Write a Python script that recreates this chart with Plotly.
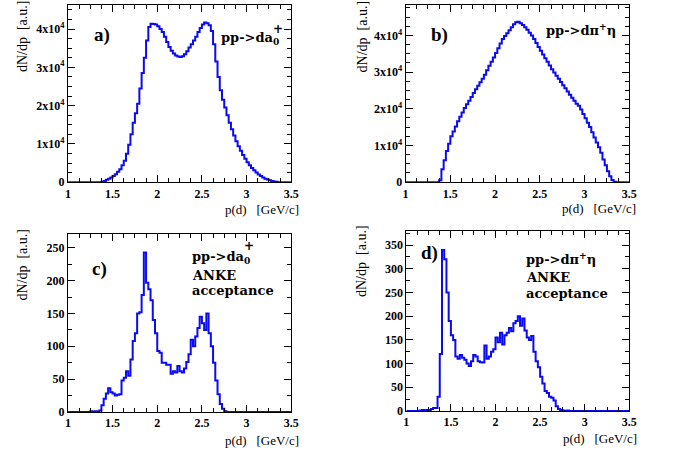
import plotly.graph_objects as go

# ---------------- data ----------------
x_start = 1.0
bin_width = 0.025
n_bins = 100
edges = [round(x_start + i * bin_width, 4) for i in range(n_bins + 1)]

# a) pp->d a0+   (units of 1e4)
a_values = [0]*15 + [
    0.01, 0.03, 0.06, 0.09, 0.12, 0.16, 0.21, 0.27, 0.34, 0.44,
    0.56, 0.74, 0.98, 1.25, 1.55, 1.80, 2.05, 2.45, 2.85, 3.25,
    3.70, 4.05, 4.14, 4.13, 4.12, 4.07, 4.00, 3.92, 3.80, 3.66,
    3.53, 3.43, 3.36, 3.31, 3.28, 3.27, 3.29, 3.34, 3.42, 3.52,
    3.60, 3.70, 3.80, 3.92, 4.03, 4.12, 4.17, 4.15, 4.10, 3.95,
    3.60, 3.15, 2.75, 2.40, 2.15, 1.95, 1.75, 1.55, 1.38, 1.22,
    1.07, 0.94, 0.82, 0.71, 0.61, 0.52, 0.44, 0.37, 0.31, 0.25,
    0.20, 0.16, 0.12, 0.09, 0.07, 0.05, 0.03, 0.02, 0.01] + [0]*6

# b) pp->d pi+ eta   (units of 1e4)
b_values = [0]*15 + [
    0.05, 0.35, 0.60, 0.85, 1.05, 1.25, 1.38, 1.52, 1.66, 1.78,
    1.90, 2.02, 2.12, 2.22, 2.32, 2.43, 2.53, 2.63, 2.72, 2.82,
    2.93, 3.05, 3.17, 3.28, 3.40, 3.52, 3.65, 3.78, 3.90, 3.98,
    4.06, 4.14, 4.22, 4.30, 4.36, 4.37, 4.33, 4.28, 4.22, 4.15,
    4.07, 4.00, 3.90, 3.79, 3.68, 3.58, 3.48, 3.38, 3.28, 3.18,
    3.08, 2.99, 2.90, 2.82, 2.73, 2.64, 2.56, 2.47, 2.38, 2.30,
    2.22, 2.14, 2.08, 1.98, 1.86, 1.74, 1.62, 1.50, 1.36, 1.22,
    1.08, 0.95, 0.80, 0.62, 0.46, 0.30, 0.16, 0.06, 0.01] + [0]*6

# c) pp->d a0+ , ANKE acceptance
c_values = [0]*10 + [
    1, 0, 1, 0, 2, 10, 20, 28, 36, 30,
    28, 25, 26, 27, 48, 52, 62, 55, 80, 108,
    120, 150, 152, 178, 243, 197, 187, 170, 140, 120,
    93, 90, 75, 75, 72, 72, 58, 62, 60, 70,
    62, 60, 66, 76, 88, 110, 100, 115, 128, 145,
    135, 125, 150, 120, 100, 75, 48, 27, 12, 5,
    1] + [0]*29

# d) pp->d pi+ eta , ANKE acceptance
d_values = [0]*6 + [
    1, 2, 1, 2, 1, 4, 6, 6, 30, 120,
    340, 320, 250, 190, 160, 150, 115, 110, 118, 112,
    108, 100, 95, 105, 118, 115, 105, 103, 102, 138,
    110, 115, 125, 130, 155, 145, 165, 140, 160, 165,
    175, 168, 185, 190, 200, 180, 195, 170, 155, 150,
    158, 125, 105, 92, 72, 58, 42, 38, 30, 28,
    22, 10, 4, 2, 1, 0, 1] + [0]*27

a_yticks = {'0': '0', '1': '1x10<sup>4</sup>', '2': '2x10<sup>4</sup>',
            '3': '3x10<sup>4</sup>', '4': '4x10<sup>4</sup>'}

# ---------------- figure ----------------
W, H = 674, 458
def px(x): return x / W
def py(y): return 1 - y / H

line = dict(color='rgb(10,10,245)', width=2)
fig = go.Figure()
series = [a_values, b_values, c_values, d_values]
for i, vals in enumerate(series):
    fig.add_trace(go.Scatter(
        x=edges, y=list(vals) + [vals[-1]], mode='lines', line_shape='hv',
        line=line, xaxis='x' if i == 0 else f'x{i+1}',
        yaxis='y' if i == 0 else f'y{i+1}', showlegend=False, hoverinfo='skip'))

tickfont = dict(family='Liberation Serif', size=12, color='black', weight='bold')
def xaxis(dom, anchor):
    return dict(domain=dom, anchor=anchor, range=[1, 3.5], tickmode='linear', tick0=1, dtick=0.5,
                ticks='inside', ticklen=7, tickwidth=1, tickcolor='black',
                showline=True, linecolor='black', linewidth=1, mirror='ticks',
                showgrid=False, zeroline=False, tickfont=tickfont,
                minor=dict(tickmode='linear', tick0=1, dtick=0.125, ticks='inside',
                           ticklen=4, tickcolor='black', showgrid=False))
def yaxis(dom, anchor, rng, dtick, mdtick, alias=None):
    d = dict(domain=dom, anchor=anchor, range=rng, tickmode='linear', tick0=0, dtick=dtick,
             ticks='inside', ticklen=7, tickwidth=1, tickcolor='black',
             showline=True, linecolor='black', linewidth=1, mirror='ticks',
             showgrid=False, zeroline=False, tickfont=tickfont,
             minor=dict(tickmode='linear', tick0=0, dtick=mdtick, ticks='inside',
                        ticklen=4, tickcolor='black', showgrid=False))
    if alias:
        d['labelalias'] = alias
    return d

dom_a_x = [px(66), px(293)];   dom_a_y = [py(185), py(5)]
dom_b_x = [px(409.3), px(636.7)]; dom_b_y = [py(185), py(5)]
dom_c_x = [px(66), px(293)];   dom_c_y = [py(418.3), py(237.7)]
dom_d_x = [px(410), px(636.7)]; dom_d_y = [py(417.3), py(235)]

fig.update_layout(
    width=W, height=H, autosize=False, margin=dict(l=0, r=0, t=0, b=0),
    paper_bgcolor='white', plot_bgcolor='white',
    xaxis=xaxis(dom_a_x, 'y'), yaxis=yaxis(dom_a_y, 'x', [0, 4.63], 1, 0.25, a_yticks),
    xaxis2=xaxis(dom_b_x, 'y2'), yaxis2=yaxis(dom_b_y, 'x2', [0, 4.83], 1, 0.25, a_yticks),
    xaxis3=xaxis(dom_c_x, 'y3'), yaxis3=yaxis(dom_c_y, 'x3', [0, 271], 50, 25),
    xaxis4=xaxis(dom_d_x, 'y4'), yaxis4=yaxis(dom_d_y, 'x4', [0, 379], 50, 25),
)

ann = []
def text(x, y, s, size, bold=False, xanchor='center', angle=0, family='Liberation Serif'):
    ann.append(dict(x=px(x), y=py(y), xref='paper', yref='paper', text=s, showarrow=False,
                    xanchor=xanchor, yanchor='middle', textangle=angle,
                    font=dict(family=family, size=size, color='black',
                              weight='bold' if bold else 'normal')))

lab_family = 'DejaVu Serif'
# axis titles
for (x, y) in [(20, 37), (365, 37), (20, 269), (365, 265)]:
    text(x, y, 'dN/dp  [a.u.]', 14, angle=-90)
for (x, y) in [(263, 213), (606, 212), (263, 447), (607, 445)]:
    text(x, y, 'p(d)   [GeV/c]', 13)
# panel labels
text(90, 36, 'a)', 19, True, 'left')
text(433, 36, 'b)', 19, True, 'left')
text(88, 273, 'c)', 19, True, 'left')
text(423, 257, 'd)', 19, True, 'left')
# reactions
text(220, 39, 'pp->da<sub>0</sub>', 13, True, 'left', family=lab_family)
text(280, 29, '+', 12, True, family=lab_family)
text(550, 30, 'pp->dπ<sup>+</sup>η', 13, True, 'left', family=lab_family)
text(190, 261, 'pp->da<sub>0</sub>', 13, True, 'left', family=lab_family)
text(250, 250, '+', 12, True, family=lab_family)
text(190, 280, 'ANKE', 13, True, 'left', family=lab_family)
text(190, 295, 'acceptance', 13, True, 'left', family=lab_family)
text(530, 263, 'pp->dπ<sup>+</sup>η', 13, True, 'left', family=lab_family)
text(530, 282, 'ANKE', 13, True, 'left', family=lab_family)
text(530, 298, 'acceptance', 13, True, 'left', family=lab_family)
fig.update_layout(annotations=ann)

fig.write_html('out.html', default_width='674px', default_height='458px',
               config={'displayModeBar': False, 'responsive': False},
               post_script="document.body.style.margin='0';")
